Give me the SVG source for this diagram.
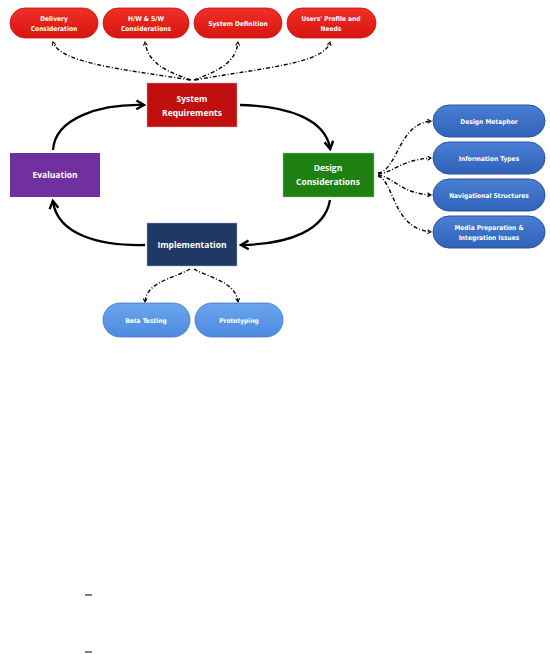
<svg xmlns="http://www.w3.org/2000/svg" width="550" height="654" viewBox="0 0 550 654">
<defs>
<linearGradient id="gRed" x1="0" y1="0" x2="0" y2="1"><stop offset="0" stop-color="#f0302a"/><stop offset="1" stop-color="#d8140e"/></linearGradient>
<linearGradient id="gBlue" x1="0" y1="0" x2="0" y2="1"><stop offset="0" stop-color="#4a7fd4"/><stop offset="1" stop-color="#2f62b8"/></linearGradient>
<linearGradient id="gLBlue" x1="0" y1="0" x2="0" y2="1"><stop offset="0" stop-color="#6aa6ee"/><stop offset="1" stop-color="#4e8ade"/></linearGradient>
<marker id="openArr" viewBox="0 0 10 10" refX="8" refY="5" markerWidth="5" markerHeight="5" orient="auto" markerUnits="userSpaceOnUse">
<path d="M1,1 L8,5 L1,9" fill="none" stroke="#000" stroke-width="2"/>
</marker>
<marker id="solidArr" viewBox="0 0 10 10" refX="7" refY="5" markerWidth="11" markerHeight="11" orient="auto" markerUnits="userSpaceOnUse">
<path d="M1,1 L8,5 L1,9" fill="none" stroke="#000" stroke-width="2.2"/>
</marker>
</defs>
<style>
.pill text,.box text{fill:#fff;text-anchor:middle;font-weight:bold}
.pill text{font-family:"DejaVu Sans Condensed","DejaVu Sans",sans-serif;font-size:6.6px}
.box text{font-family:"Open Sans","Noto Sans",sans-serif;font-size:8.5px}
.red{fill:url(#gRed);stroke:#c8100a;stroke-width:0.8}
.blue{fill:url(#gBlue);stroke:#2a559c;stroke-width:1}
.lblue{fill:url(#gLBlue);stroke:#3f78c8;stroke-width:0.8}
.dd{fill:none;stroke:#000;stroke-width:1.4;stroke-dasharray:4 2 1 2;marker-end:url(#openArr)}
.cyc{fill:none;stroke:#000;stroke-width:2.3;marker-end:url(#solidArr)}
</style>
<rect width="550" height="654" fill="#fff"/>

<g id="connectors">
<path class="dd" d="M190,80 C130,70 60,64 53,42"/>
<path class="dd" d="M191,80 C168,72 148,64 145,42"/>
<path class="dd" d="M194,80 C215,72 236,64 238,42"/>
<path class="dd" d="M195,80 C260,68 325,64 330,42"/>
<path class="cyc" d="M53,150 C55,118 100,104 143,105"/>
<path class="cyc" d="M240,105 C290,106 325,120 330,148"/>
<path class="cyc" d="M330,200 C325,230 290,244 242,245"/>
<path class="cyc" d="M145,245 C100,246 58,235 53,202"/>
<path class="dd" d="M378,173 C398,170 398,124 431,121"/>
<path class="dd" d="M378,174 C395,172 400,160 431,158"/>
<path class="dd" d="M378,175 C395,178 400,193 431,195"/>
<path class="dd" d="M378,176 C395,182 392,228 431,232"/>
<path class="dd" d="M190,269 C175,278 146,282 145,302"/>
<path class="dd" d="M194,269 C210,278 236,282 238,302"/>
</g>

<g id="delivery" class="pill"><rect class="red" x="10" y="8" width="88" height="30" rx="15"/><text x="54" y="21">Delivery</text><text x="54" y="31">Consideration</text></g>
<g id="hwsw" class="pill"><rect class="red" x="103" y="8" width="86" height="30" rx="15"/><text x="146" y="21">H/W &amp; S/W</text><text x="146" y="31">Considerations</text></g>
<g id="sysdef" class="pill"><rect class="red" x="194" y="8" width="88" height="30" rx="15"/><text x="238" y="26">System Definition</text></g>
<g id="users" class="pill"><rect class="red" x="287" y="8" width="89" height="30" rx="15"/><text x="331" y="21">Users' Profile and</text><text x="331" y="31">Needs</text></g>

<g id="sysreq" class="box"><rect x="147" y="83" width="90" height="44" fill="#c00f0f" stroke="#e0a0a0" stroke-width="0.5"/><text x="192" y="102">System</text><text x="192" y="116">Requirements</text></g>
<g id="evaluation" class="box"><rect x="10" y="153" width="90" height="44" fill="#7030a0"/><text x="55" y="178">Evaluation</text></g>
<g id="design" class="box"><rect x="283" y="153" width="91" height="44" fill="#1e8011" stroke="#8fc88f" stroke-width="0.5"/><text x="328" y="171">Design</text><text x="328" y="185">Considerations</text></g>
<g id="implementation" class="box"><rect x="147" y="223" width="90" height="43" fill="#1f3864" stroke="#a0b0c8" stroke-width="0.5"/><text x="192" y="248">Implementation</text></g>

<g id="metaphor" class="pill"><rect class="blue" x="433" y="105" width="112" height="32" rx="16"/><text x="489" y="124">Design Metaphor</text></g>
<g id="infotypes" class="pill"><rect class="blue" x="433" y="142" width="112" height="32" rx="16"/><text x="489" y="161">Information Types</text></g>
<g id="navstruct" class="pill"><rect class="blue" x="433" y="179" width="112" height="32" rx="16"/><text x="489" y="198">Navigational Structures</text></g>
<g id="media" class="pill"><rect class="blue" x="433" y="216" width="112" height="32" rx="16"/><text x="489" y="230">Media Preparation &amp;</text><text x="489" y="240">Integration Issues</text></g>

<g id="beta" class="pill"><rect class="lblue" x="103" y="303" width="87" height="34" rx="17"/><text x="146" y="323">Beta Testing</text></g>
<g id="proto" class="pill"><rect class="lblue" x="195" y="303" width="88" height="34" rx="17"/><text x="239" y="323">Prototyping</text></g>

<line x1="85" y1="595" x2="92" y2="595" stroke="#000" stroke-width="1"/>
<line x1="85" y1="652" x2="92" y2="652" stroke="#000" stroke-width="1"/>
</svg>
